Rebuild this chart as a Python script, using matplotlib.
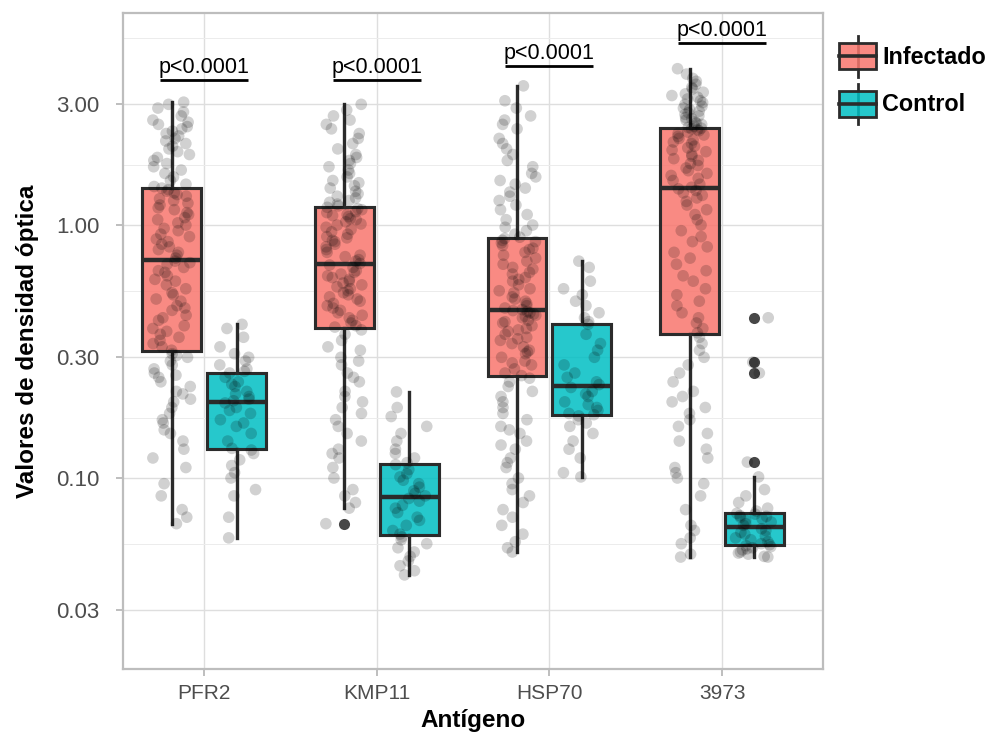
import numpy as np
import matplotlib
matplotlib.use("Agg")
import matplotlib.pyplot as plt
from matplotlib import cbook
from matplotlib.patches import Patch, Rectangle
from matplotlib.lines import Line2D
from matplotlib.legend_handler import HandlerBase

plt.rcParams['font.family'] = ['Liberation Sans', 'DejaVu Sans']

# --- data (optical density values) ---
antigens = ['PFR2', 'KMP11', 'HSP70', '3973']
groups = ['Infectado', 'Control']
p_labels = ['p<0.0001', 'p<0.0001', 'p<0.0001', 'p<0.0001']

pfr2_inf = [0.066, 0.07, 0.075, 0.085, 0.095, 0.11, 0.12, 0.13, 0.14, 0.15, 0.155, 0.165, 0.17, 0.18, 0.19,
            0.2, 0.205, 0.215, 0.22, 0.23, 0.24, 0.25, 0.255, 0.26, 0.27, 0.28, 0.29, 0.3, 0.305, 0.31,
            0.32, 0.33, 0.34, 0.35, 0.36, 0.37, 0.38, 0.39, 0.4, 0.42, 0.43, 0.44, 0.46, 0.47, 0.48,
            0.5, 0.51, 0.53, 0.54, 0.56, 0.58, 0.6, 0.61, 0.63, 0.65, 0.66, 0.68, 0.7, 0.71, 0.72,
            0.74, 0.76, 0.78, 0.8, 0.82, 0.84, 0.86, 0.88, 0.9, 0.92, 0.95, 0.97, 1.0, 1.02, 1.05,
            1.07, 1.1, 1.12, 1.15, 1.17, 1.2, 1.22, 1.25, 1.27, 1.3, 1.32, 1.34, 1.36, 1.38, 1.4,
            1.42, 1.45, 1.5, 1.55, 1.6, 1.65, 1.7, 1.75, 1.8, 1.85, 1.9, 1.95, 2.0, 2.05, 2.1,
            2.15, 2.2, 2.25, 2.3, 2.35, 2.4, 2.45, 2.5, 2.55, 2.6, 2.7, 2.8, 2.9, 3.0, 3.06]
pfr2_ctl = [0.058, 0.07, 0.085, 0.09, 0.1, 0.105, 0.112, 0.118, 0.125, 0.129,
            0.131, 0.14, 0.15, 0.16, 0.165, 0.17, 0.18, 0.185, 0.19, 0.198,
            0.202, 0.205, 0.21, 0.215, 0.22, 0.23, 0.235, 0.24, 0.25, 0.26,
            0.264, 0.27, 0.28, 0.29, 0.3, 0.31, 0.33, 0.36, 0.39, 0.405]

kmp11_inf = [0.066, 0.076, 0.08, 0.085, 0.09, 0.1, 0.11, 0.12, 0.125, 0.13, 0.14, 0.15, 0.16, 0.17, 0.18,
             0.19, 0.2, 0.21, 0.22, 0.24, 0.25, 0.26, 0.28, 0.29, 0.3, 0.32, 0.33, 0.35, 0.37, 0.385,
             0.395, 0.4, 0.41, 0.42, 0.43, 0.44, 0.45, 0.46, 0.47, 0.48, 0.49, 0.5, 0.51, 0.52, 0.53,
             0.54, 0.55, 0.56, 0.57, 0.58, 0.59, 0.6, 0.61, 0.62, 0.63, 0.64, 0.65, 0.66, 0.68, 0.695,
             0.705, 0.72, 0.73, 0.75, 0.76, 0.78, 0.8, 0.82, 0.84, 0.86, 0.87, 0.89, 0.9, 0.92, 0.94,
             0.96, 0.98, 1.0, 1.01, 1.03, 1.05, 1.06, 1.08, 1.09, 1.1, 1.12, 1.13, 1.15, 1.16, 1.175,
             1.19, 1.21, 1.23, 1.25, 1.28, 1.3, 1.33, 1.36, 1.4, 1.43, 1.47, 1.5, 1.55, 1.6, 1.65,
             1.7, 1.75, 1.8, 1.85, 1.9, 2.0, 2.1, 2.2, 2.3, 2.4, 2.5, 2.6, 2.7, 2.85, 3.0]
kmp11_ctl = [0.0414, 0.043, 0.045, 0.047, 0.049, 0.051, 0.053, 0.055, 0.057, 0.0585,
             0.06, 0.062, 0.065, 0.068, 0.07, 0.073, 0.076, 0.078, 0.081, 0.083,
             0.085, 0.087, 0.089, 0.092, 0.095, 0.098, 0.101, 0.104, 0.108, 0.113,
             0.115, 0.12, 0.125, 0.13, 0.14, 0.15, 0.16, 0.175, 0.19, 0.219]

hsp70_inf = [0.051, 0.053, 0.056, 0.06, 0.065, 0.07, 0.075, 0.08, 0.085, 0.09, 0.095, 0.1, 0.11, 0.115, 0.12,
             0.13, 0.135, 0.14, 0.15, 0.155, 0.16, 0.17, 0.18, 0.19, 0.2, 0.21, 0.22, 0.23, 0.24, 0.248,
             0.254, 0.26, 0.27, 0.28, 0.285, 0.29, 0.3, 0.31, 0.315, 0.32, 0.33, 0.34, 0.35, 0.355, 0.36,
             0.37, 0.38, 0.385, 0.39, 0.4, 0.41, 0.415, 0.42, 0.43, 0.435, 0.44, 0.445, 0.45, 0.455, 0.459,
             0.463, 0.47, 0.48, 0.49, 0.5, 0.51, 0.52, 0.54, 0.55, 0.56, 0.58, 0.6, 0.61, 0.62, 0.64,
             0.65, 0.67, 0.68, 0.7, 0.72, 0.74, 0.76, 0.78, 0.8, 0.81, 0.83, 0.85, 0.86, 0.87, 0.885,
             0.895, 0.92, 0.95, 0.98, 1.0, 1.05, 1.1, 1.15, 1.2, 1.25, 1.3, 1.35, 1.4, 1.45, 1.5,
             1.55, 1.6, 1.7, 1.8, 1.9, 2.0, 2.1, 2.2, 2.4, 2.5, 2.6, 2.7, 2.9, 3.1, 3.55]
hsp70_ctl = [0.101, 0.105, 0.12, 0.13, 0.14, 0.15, 0.16, 0.165, 0.17, 0.176,
             0.178, 0.18, 0.185, 0.19, 0.195, 0.2, 0.21, 0.215, 0.22, 0.228,
             0.234, 0.24, 0.25, 0.26, 0.28, 0.3, 0.32, 0.34, 0.37, 0.405,
             0.415, 0.43, 0.45, 0.48, 0.5, 0.53, 0.56, 0.6, 0.68, 0.72]

a3973_inf = [0.0487, 0.05, 0.055, 0.058, 0.062, 0.065, 0.075, 0.085, 0.095, 0.1, 0.105, 0.11, 0.12, 0.13, 0.14,
             0.15, 0.16, 0.17, 0.18, 0.19, 0.2, 0.21, 0.22, 0.24, 0.26, 0.28, 0.3, 0.32, 0.34, 0.36,
             0.375, 0.39, 0.41, 0.43, 0.45, 0.48, 0.5, 0.53, 0.56, 0.6, 0.63, 0.66, 0.7, 0.74, 0.78,
             0.82, 0.86, 0.9, 0.95, 1.0, 1.05, 1.1, 1.15, 1.2, 1.24, 1.28, 1.31, 1.34, 1.37, 1.39,
             1.41, 1.45, 1.5, 1.53, 1.57, 1.6, 1.64, 1.68, 1.72, 1.75, 1.8, 1.83, 1.87, 1.9, 1.95,
             1.98, 2.02, 2.05, 2.1, 2.13, 2.17, 2.2, 2.24, 2.27, 2.3, 2.33, 2.36, 2.38, 2.4, 2.415,
             2.43, 2.46, 2.5, 2.53, 2.56, 2.6, 2.63, 2.66, 2.7, 2.74, 2.78, 2.82, 2.86, 2.9, 2.95,
             3.0, 3.05, 3.1, 3.15, 3.2, 3.25, 3.3, 3.35, 3.45, 3.5, 3.6, 3.7, 3.8, 3.95, 4.15]
a3973_ctl = [0.0487, 0.049, 0.05, 0.0505, 0.051, 0.052, 0.0525, 0.053, 0.0535, 0.054,
             0.0545, 0.055, 0.056, 0.057, 0.058, 0.059, 0.06, 0.061, 0.062, 0.063,
             0.065, 0.066, 0.067, 0.068, 0.069, 0.07, 0.0705, 0.071, 0.072, 0.0725,
             0.074, 0.076, 0.08, 0.085, 0.09, 0.101, 0.1156, 0.26, 0.287, 0.43]

infectado = [pfr2_inf, kmp11_inf, hsp70_inf, a3973_inf]
control = [pfr2_ctl, kmp11_ctl, hsp70_ctl, a3973_ctl]

# --- styling ---
fill_colors = {'Infectado': '#F8766D', 'Control': '#00BFC4'}
edge = '#2b2b2b'
dodge = 0.188
box_w = 0.34
p_line_y = [3.75, 3.75, 4.25, 5.25]

fig = plt.figure(figsize=(9.97, 7.33), dpi=100)
ax = fig.add_axes([123 / 997, 1 - 669 / 733, 700 / 997, 656 / 733])

ax.set_yscale('log')
rng = np.random.default_rng(7)
x_cat = np.arange(1, len(antigens) + 1)

for gi, (grp, datasets) in enumerate(zip(groups, [infectado, control])):
    pos = x_cat + (-dodge if gi == 0 else dodge)
    # stats on log10 scale (like a log-transformed axis), back-transformed
    stats = []
    for vals in datasets:
        s = cbook.boxplot_stats(np.log10(vals), whis=1.5)[0]
        for k in ['mean', 'med', 'q1', 'q3', 'whislo', 'whishi', 'cilo', 'cihi']:
            s[k] = 10 ** s[k]
        s['fliers'] = 10 ** np.asarray(s['fliers'])
        stats.append(s)
    ax.bxp(stats, positions=pos, widths=box_w, patch_artist=True, showcaps=False,
           boxprops=dict(facecolor=fill_colors[grp], alpha=0.85, edgecolor=edge, linewidth=2.2),
           medianprops=dict(color=edge, linewidth=3.2),
           whiskerprops=dict(color=edge, linewidth=2.4),
           flierprops=dict(marker='o', markerfacecolor='#333333', markeredgecolor='none',
                           markersize=8, alpha=0.9),
           zorder=2)
    # re-stroke box edges at full opacity
    for s, p in zip(stats, pos):
        ax.add_patch(Rectangle((p - box_w / 2, s['q1']), box_w, s['q3'] - s['q1'],
                               fill=False, edgecolor=edge, linewidth=2.2, zorder=2.5))
    # jittered raw points
    for vals, p in zip(datasets, pos):
        jx = p + rng.uniform(-0.11, 0.11, len(vals))
        ax.scatter(jx, vals, s=70, color='black', alpha=0.18, edgecolors='none', zorder=3)

# significance annotations
for xc, yl, lab in zip(x_cat, p_line_y, p_labels):
    ax.plot([xc - 0.255, xc + 0.255], [yl, yl], color='black', lw=2.0, solid_capstyle='butt', zorder=4)
    ax.annotate(lab, xy=(xc, yl), xytext=(0, 1.5), textcoords='offset points',
                ha='center', va='bottom', fontsize=15.5, color='black')

ax.set_xlim(0.53, 4.585)
ax.set_ylim(0.01758, 6.89)
ax.set_xticks(x_cat)
ax.set_xticklabels(antigens)
ax.set_yticks([0.03, 0.1, 0.3, 1, 3])
ax.set_yticklabels(['0.03', '0.10', '0.30', '1.00', '3.00'])
ax.set_yticks([0.0548, 0.173, 0.548, 1.73, 5.48], minor=True)
ax.set_yticklabels([], minor=True)
ax.tick_params(which='major', length=5, width=1.2, color='#b3b3b3', labelcolor='#4d4d4d')
ax.tick_params(axis='x', labelsize=15, pad=6)
ax.tick_params(axis='y', labelsize=16, pad=12)
ax.tick_params(which='minor', length=0)
ax.grid(which='major', color='#dedede', lw=1.0)
ax.grid(which='minor', axis='y', color='#ececec', lw=0.7)
ax.set_axisbelow(True)
for sp in ax.spines.values():
    sp.set_color('#bdbdbd')
    sp.set_linewidth(1.6)

ax.set_xlabel('Antígeno', fontsize=17.5, fontweight='bold', labelpad=4)
ax.set_ylabel('Valores de densidad óptica', fontsize=17.5, fontweight='bold', labelpad=12)


class BoxKey(HandlerBase):
    def create_artists(self, legend, orig_handle, xdescent, ydescent, width, height, fontsize, trans):
        cx = width / 2 - xdescent
        y0 = -ydescent
        wl = Line2D([cx, cx], [y0, y0 + height], color=edge, lw=2.0, transform=trans)
        bh = height * 0.65
        by = y0 + (height - bh) / 2
        rect = Rectangle((-xdescent + 1, by), width - 2, bh, facecolor=orig_handle.get_facecolor(),
                         edgecolor=edge, lw=2.0, transform=trans)
        med = Line2D([-xdescent + 1, -xdescent + width - 1], [y0 + height / 2] * 2, color=edge, lw=2.6,
                     transform=trans)
        return [wl, rect, med]


handles = [Patch(facecolor=fill_colors[g], alpha=0.85, label=g) for g in groups]
fig.legend(handles=handles, loc='upper left', bbox_to_anchor=(838 / 997, 1 - 36 / 733),
           frameon=False, prop=dict(size=16.8, weight='bold'), handler_map={Patch: BoxKey()},
           handlelength=1.7, handleheight=2.3, handletextpad=0.2, labelspacing=0.3,
           borderpad=0, borderaxespad=0)

fig.savefig('out.png', dpi=100)
